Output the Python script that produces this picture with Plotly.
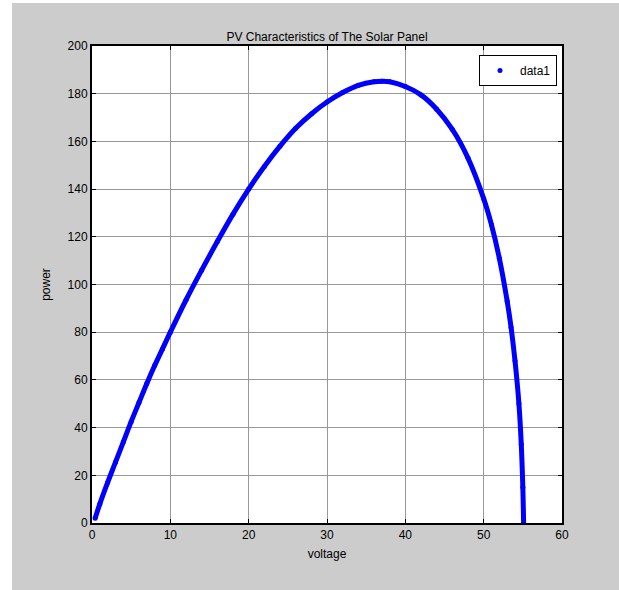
import plotly.graph_objects as go

voltage = [0.4, 1, 2, 3, 4, 5, 6, 7, 8, 9, 10, 12, 14, 16, 18, 20, 22, 24, 26, 28, 30,
           32, 34, 36, 37, 38, 40, 42, 44, 46, 48, 50, 51, 52, 53, 53.5, 54, 54.5,
           54.8, 55, 55.1]
power = [2, 8, 17, 25.5, 34, 42.5, 50.5, 58.5, 66, 73, 80, 93.5, 106, 118, 129.5, 140,
         149.5, 158, 165.5, 171.5, 176.5, 180.5, 183.5, 185, 185.2, 185, 183, 179.5,
         173.5, 165, 153, 136, 125, 111, 93, 82, 68, 50, 33, 15, 0]

x_ticks = [0, 10, 20, 30, 40, 50, 60]
y_ticks = [0, 20, 40, 60, 80, 100, 120, 140, 160, 180, 200]

W, H = 619, 590
L, R, T, B = 92, 57, 46, 67
pw, ph = W - L - R, H - T - B

fig = go.Figure()
fig.add_trace(go.Scatter(x=voltage, y=power, mode="lines", line=dict(color="#0000ff", width=5),
                         line_shape="spline", showlegend=False, hoverinfo="skip"))
fig.add_trace(go.Scatter(x=voltage, y=power, mode="markers", name="data1",
                         marker=dict(color="#0000ff", size=5)))

font = dict(family="Liberation Sans, Arial, sans-serif", size=12, color="black")
axis_common = dict(showline=True, linecolor="black", linewidth=2, mirror="ticks",
                   ticks="inside", ticklen=4, tickcolor="black", showgrid=True,
                   gridcolor="#999999", gridwidth=1, zeroline=False, tickfont=font)

fig.update_layout(
    width=W, height=H,
    margin=dict(l=L, r=R, t=T, b=B, pad=0),
    paper_bgcolor="#cccccc", plot_bgcolor="white",
    font=font,
    title=dict(text="PV Characteristics of The Solar Panel", x=(L + pw / 2) / W, xanchor="center",
               y=1 - 37 / H, yanchor="middle", font=font),
    xaxis=dict(range=[0, 60], tickvals=x_ticks, title=dict(text="voltage", font=font, standoff=8),
               **axis_common),
    yaxis=dict(range=[0, 200], tickvals=y_ticks, title=dict(text="power", font=font, standoff=14),
               **axis_common),
    legend=dict(x=(557 - L) / pw, y=1 - (55 - T) / ph, xanchor="right", yanchor="top",
                bgcolor="white", bordercolor="black", borderwidth=1, font=font),
    shapes=[
        dict(type="rect", xref="paper", yref="paper", x0=-L / pw - 0.01, x1=-(L - 12) / pw,
             y0=-B / ph - 0.01, y1=1 + T / ph + 0.01, fillcolor="white", line_width=0, layer="below"),
        dict(type="rect", xref="paper", yref="paper", x0=-L / pw - 0.01, x1=1 + R / pw + 0.01,
             y0=1 + (T - 3) / ph, y1=1 + T / ph + 0.01, fillcolor="white", line_width=0, layer="below"),
    ],
)

fig.write_html("out.html")
